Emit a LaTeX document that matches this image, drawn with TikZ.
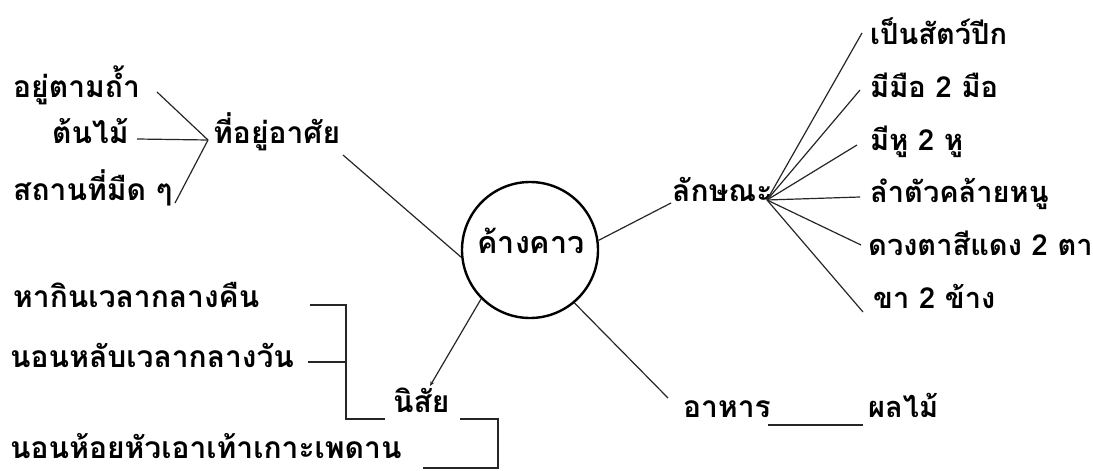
\documentclass[tikz,border=0pt]{standalone}
\usepackage{fontspec}
\newfontfamily\thai[Script=Thai]{Loma}
\usetikzlibrary{arrows.meta}
\begin{document}
\begin{tikzpicture}[x=1pt,y=-1pt,
  txt/.style={font=\thai\bfseries\fontsize{30}{31}\selectfont, inner sep=0pt, anchor=base west},
  rtxt/.style={txt, font=\thai\bfseries\fontsize{29}{30}\selectfont},
  conn/.style={line width=1.2pt, black!85},
  hub/.style={circle, draw, line width=2.4pt, minimum size=136pt, inner sep=0pt},
  title/.style={font=\thai\bfseries\fontsize{30.5}{32}\selectfont, inner sep=0pt, anchor=base}]
\useasboundingbox (0,0) rectangle (1093,471);
% hub
\node[hub] (bat) at (530,250) {};
\node[title] (batt) at (531,253) {ค้างคาว};
% habitat group
\node[txt] (a1) at (13,97) {อยู่ตามถ้ำ};
\node[txt] (a2) at (52,143) {ต้นไม้};
\node[txt] (a3) at (13,200) {สถานที่มืด ๆ};
\node[txt] (home) at (213,143) {ที่อยู่อาศัย};
\coordinate (c1) at (208,140);
\coordinate (p1) at (157,92);
\coordinate (p2) at (137,139);
\coordinate (p3) at (175,203);
\coordinate (hs) at (343,155);
\draw[conn] (p1) -- (c1);
\draw[conn] (p2) -- (c1);
\draw[conn] (p3) -- (c1);
\draw[conn] (hs) -- (bat.186.7);
% characteristics
\node[txt] (feat) at (672,201) {ลักษณะ};
\coordinate (fw) at (671,203);
\coordinate (f) at (767,200);
\draw[conn] (bat.8.5) -- (fw);
\node[rtxt] (r1) at (870,44) {เป็นสัตว์ปีก};
\node[rtxt] (r2) at (870,97) {มีมือ 2 มือ};
\node[rtxt] (r3) at (870,150) {มีหู 2 หู};
\node[rtxt] (r4) at (870,202) {ลำตัวคล้ายหนู};
\node[rtxt] (r5) at (868,255) {ดวงตาสีแดง 2 ตา};
\node[rtxt] (r6) at (873,308) {ขา 2 ข้าง};
\coordinate (e1) at (862,33);
\coordinate (e2) at (860,90);
\coordinate (e3) at (857,145);
\coordinate (e4) at (860,197);
\coordinate (e5) at (861,245);
\coordinate (e6) at (863,312);
\foreach \e in {e1,e2,e3,e4,e5,e6} \draw[conn] (f) -- (\e);
% food
\node[txt] (food) at (683,417) {อาหาร};
\node[rtxt] (fruit) at (868,417) {ผลไม้};
\coordinate (fa) at (668,398);
\coordinate (u1) at (768,425);
\coordinate (u2) at (863,425);
\draw[conn] (bat.310.5) -- (fa);
\draw[conn] (u1) -- (u2);
% habits
\node[txt] (habit) at (393,412) {นิสัย};
\node[txt] (b1) at (13,307) {หากินเวลากลางคืน};
\node[txt] (b2) at (10,367) {นอนหลับเวลากลางวัน};
\node[txt] (b3) at (10,458) {นอนห้อยหัวเอาเท้าเกาะเพดาน};
\coordinate (ha) at (430,386);
\draw[conn, -{Stealth[length=5pt,width=4pt]}] (bat.225) -- (ha);
\coordinate (k1) at (310,305);
\coordinate (k2) at (346,305);
\coordinate (k3) at (346,419);
\coordinate (k4) at (385,419);
\coordinate (k5) at (308,362);
\coordinate (k6) at (346,362);
\coordinate (m1) at (460,419);
\coordinate (m2) at (498,419);
\coordinate (m3) at (498,468);
\coordinate (m4) at (423,468);
\draw[conn] (k1) -- (k2) -- (k3) -- (k4);
\draw[conn] (k5) -- (k6);
\draw[conn] (m1) -- (m2) -- (m3) -- (m4);
\end{tikzpicture}
\end{document}
